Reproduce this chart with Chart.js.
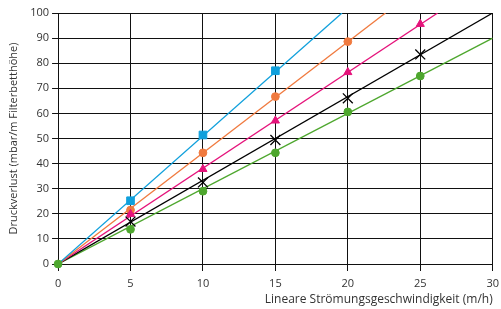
<!DOCTYPE html>
<html>
<head>
<meta charset="utf-8">
<script src="https://cdn.jsdelivr.net/npm/chart.js@4"></script>
<style>
  body { margin: 0; background: #fff; }
  #wrap { width: 501px; height: 309px; }
</style>
</head>
<body>
<div id="wrap"><canvas id="myChart" width="501" height="309"></canvas></div>
<script>
// データ
const xValues = [0, 5, 10, 15, 20, 25];
const blueValues = [0, 25.2, 51.4, 77.0];
const orangeValues = [0, 21.5, 44.3, 66.7, 88.6];
const magentaValues = [0, 19.9, 37.8, 57.1, 76.4, 95.6];
const blackValues = [0, 16.9, 32.5, 49.4, 66.0, 83.5];
const greenValues = [0, 13.8, 29.0, 44.3, 60.6, 74.9];

// トレンド線の終点（グラフ枠で切れる位置）
const trendEndX = [19.6, 22.6, 26.2, 30, 30];
const trendEndY = [100, 100, 100, 100, 90];

const xTicks = [0, 5, 10, 15, 20, 25, 30];
const yTicks = [0, 10, 20, 30, 40, 50, 60, 70, 80, 90, 100];

const xTitle = 'Lineare Strömungsgeschwindigkeit (m/h)';
const yTitle = 'Druckverlust (mbar/m Filterbetthöhe)';

const series = [
  { values: greenValues, color: '#4ea72e', style: 'circle', radius: 3.9, origin: true },
  { values: blackValues, color: '#000000', style: 'crossRot', radius: 7, origin: false },
  { values: magentaValues, color: '#e5137b', style: 'triangle', radius: 4.7, origin: false },
  { values: orangeValues, color: '#f07a3f', style: 'circle', radius: 3.9, origin: false },
  { values: blueValues, color: '#10a0dc', style: 'rect', radius: 5.4, origin: false }
];
// トレンド線の並び（青, 橙, 赤紫, 黒, 緑）
const trendOrder = [4, 3, 2, 1, 0];

function toPoints(values) {
  return values.map((v, i) => ({ x: xValues[i], y: v }));
}

const datasets = [];

series.forEach(s => {
  datasets.push({
    data: toPoints(s.values),
    showLine: false,
    pointStyle: s.style,
    // 原点のマーカーは緑のみ
    pointRadius: ctx => (ctx.dataIndex === 0 && !s.origin) ? 0 : s.radius,
    pointBackgroundColor: s.color,
    pointBorderColor: s.color,
    pointBorderWidth: s.style === 'crossRot' ? 1.3 : 1,
    clip: false
  });
});

trendOrder.forEach((si, i) => {
  datasets.push({
    data: [{ x: 0, y: 0 }, { x: trendEndX[i], y: trendEndY[i] }],
    showLine: true,
    borderColor: series[si].color,
    borderWidth: 1.3,
    pointRadius: 0
  });
});

const font = { family: 'Open Sans', size: 11, lineHeight: 1 };

new Chart(document.getElementById('myChart'), {
  type: 'scatter',
  data: { datasets: datasets },
  options: {
    responsive: false,
    animation: false,
    layout: { padding: { top: 13, right: 6, left: 7, bottom: 3 } },
    plugins: {
      legend: { display: false },
      tooltip: { enabled: false }
    },
    scales: {
      x: {
        type: 'linear',
        min: 0,
        max: 30,
        afterBuildTicks: axis => { axis.ticks = xTicks.map(v => ({ value: v })); },
        // 右端の「30」ははみ出してよい
        afterFit: axis => { axis.paddingRight = 0; },
        ticks: { color: '#333', font: font, padding: 7, maxRotation: 0 },
        grid: { color: '#111', lineWidth: 1, tickLength: 7 },
        border: { color: '#111' },
        title: {
          display: true,
          text: xTitle,
          align: 'end',
          color: '#333',
          font: { family: 'Open Sans', size: 12, lineHeight: 1 },
          padding: { top: -2, bottom: 0 }
        }
      },
      y: {
        type: 'linear',
        min: 0,
        max: 100,
        afterBuildTicks: axis => { axis.ticks = yTicks.map(v => ({ value: v })); },
        ticks: { color: '#333', font: { family: 'Open Sans', size: 11 }, padding: 3 },
        grid: { color: '#111', lineWidth: 1, tickLength: 6 },
        border: { color: '#111' },
        title: {
          display: true,
          text: yTitle,
          color: '#333',
          font: { family: 'Open Sans', size: 11 },
          padding: { top: 0, bottom: 7 }
        }
      }
    }
  }
});
</script>
</body>
</html>
